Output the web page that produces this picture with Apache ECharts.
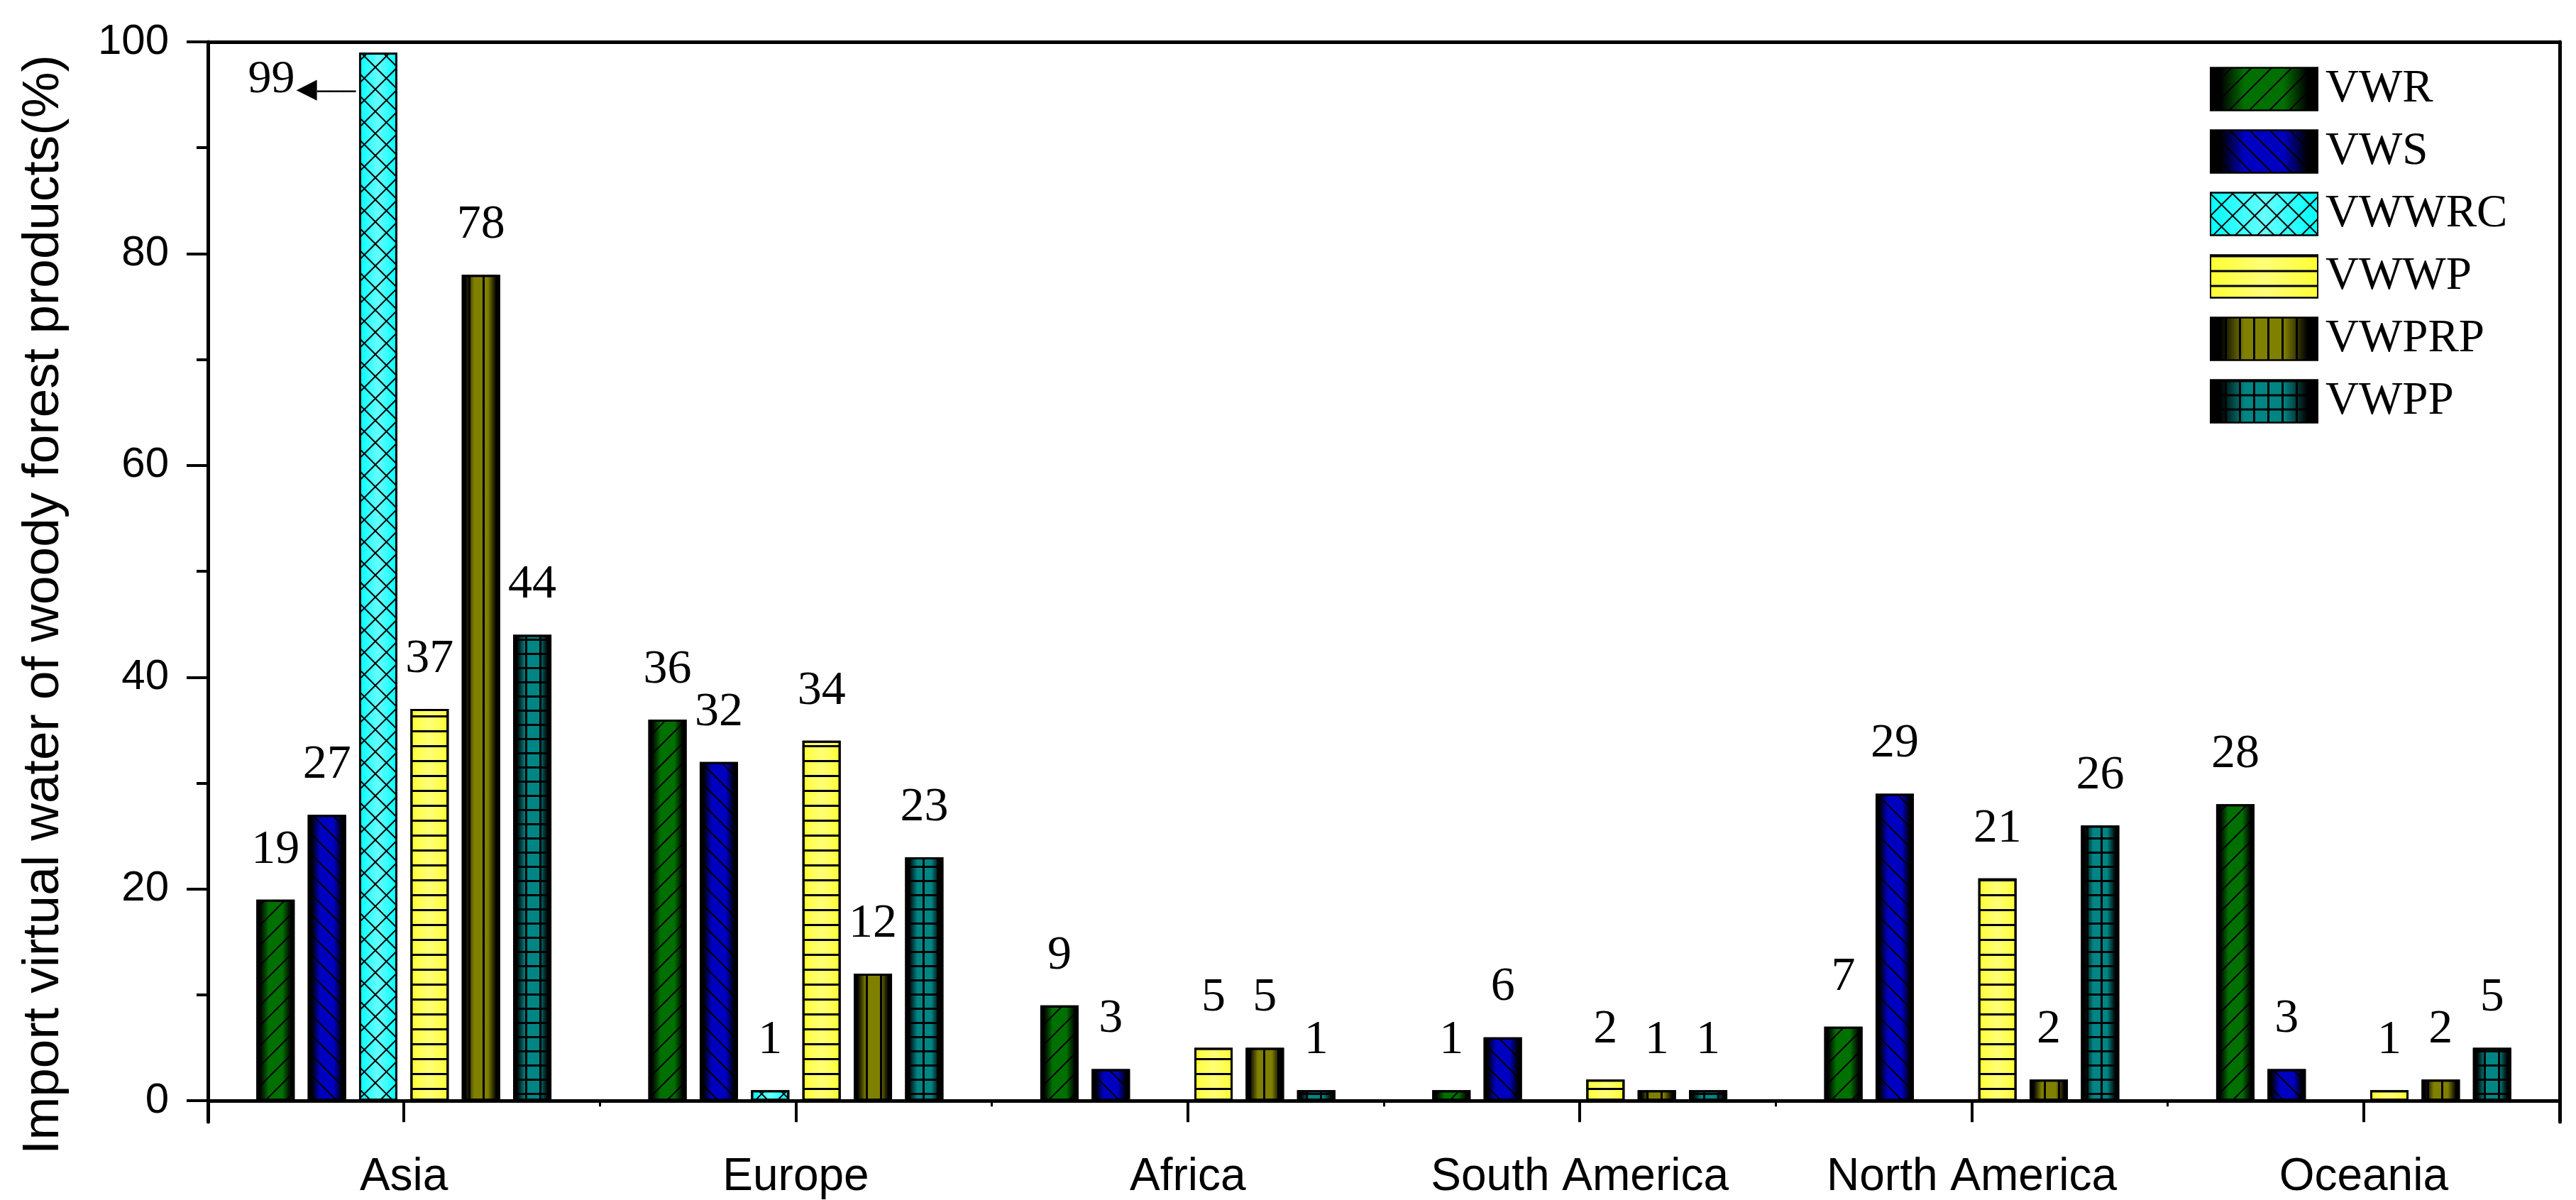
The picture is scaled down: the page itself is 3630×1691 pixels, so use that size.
<!DOCTYPE html>
<html><head><meta charset="utf-8">
<script src="https://cdn.jsdelivr.net/npm/echarts@6/dist/echarts.min.js"></script>
<style>html,body{margin:0;padding:0;background:#fff}#c{width:3630px;height:1691px}</style>
</head><body><div id="c"></div>
<script>
const categories = ['Asia', 'Europe', 'Africa', 'South America', 'North America', 'Oceania'];
const seriesNames = ['VWR', 'VWS', 'VWWRC', 'VWWP', 'VWPRP', 'VWPP'];
const VWR = [19, 36, 9, 1, 7, 28];
const VWS = [27, 32, 3, 6, 29, 3];
const VWWRC = [99, 1, 0, 0, 0, 0];
const VWWP = [37, 34, 5, 2, 21, 1];
const VWPRP = [78, 12, 5, 1, 2, 2];
const VWPP = [44, 23, 1, 1, 26, 5];
const yTicks = [0, 20, 40, 60, 80, 100];
const yMinorTicks = [10, 30, 50, 70, 90];
const yTitle = 'Import virtual water of woody forest products(%)';

const SANS = 'Liberation Sans';
const SERIF = 'Liberation Serif';

function darkFill(c) {
  return { type: 'linear', x: 0, y: 0, x2: 1, y2: 0, colorStops: [
    { offset: 0, color: '#000' }, { offset: 0.1, color: '#000' }, { offset: 0.32, color: c },
    { offset: 0.68, color: c }, { offset: 0.9, color: '#000' }, { offset: 1, color: '#000' }] };
}
function lightFill(edge, mid) {
  return { type: 'linear', x: 0, y: 0, x2: 1, y2: 0, colorStops: [
    { offset: 0, color: edge }, { offset: 0.5, color: mid }, { offset: 1, color: edge }] };
}
function lineDecal(rot, thick, gap) {
  return { symbol: 'rect', symbolSize: 1, symbolKeepAspect: false, color: '#000',
    dashArrayX: [20, 0], dashArrayY: [thick, gap], rotation: rot };
}
function gridDecal(rot, thick, gap) {
  return { symbol: 'rect', symbolSize: 1, symbolKeepAspect: false, color: '#000',
    dashArrayX: [[thick + gap, 0], [thick, gap]], dashArrayY: [thick, 0, gap, 0], rotation: rot };
}

const styles = [
  { color: darkFill('#007000'), decal: lineDecal(-Math.PI / 4, 2, 18), bw: 3 },
  { color: darkFill('#0000c0'), decal: lineDecal(Math.PI / 4, 2, 18), bw: 3 },
  { color: lightFill('#00ffff', '#66ffff'), decal: gridDecal(Math.PI / 4, 2, 20), bw: 3 },
  { color: lightFill('#ffff33', '#ffff77'), decal: lineDecal(0, 3, 18), bw: 3 },
  { color: darkFill('#808000'), decal: { symbol: 'rect', symbolSize: 1, symbolKeepAspect: false, color: '#000', dashArrayX: [3, 17], dashArrayY: [20, 0], rotation: 0 }, bw: 3 },
  { color: darkFill('#008585'), decal: gridDecal(0, 3, 17), bw: 3 }
];
const values = [VWR, VWS, VWWRC, VWWP, VWPRP, VWPP];

const baseLabel = {
  show: true, position: 'top', distance: 36, fontFamily: SERIF, fontSize: 68, color: '#000',
  formatter: p => (p.value > 0 ? String(p.value) : '')
};
const bigLabel = {
  position: [-5, 6], align: 'right', verticalAlign: 'top',
  formatter: '{v|{c}}{g| }{h|◀}{l|───}',
  rich: {
    v: { fontFamily: SERIF, fontSize: 66, lineHeight: 66, color: '#000' },
    g: { fontSize: 8, lineHeight: 34, verticalAlign: 'bottom' },
    h: { fontFamily: 'DejaVu Sans', fontSize: 38, lineHeight: 38, verticalAlign: 'bottom', color: '#000' },
    l: { fontFamily: 'DejaVu Sans', fontSize: 30, lineHeight: 38, verticalAlign: 'bottom', color: '#000' }
  }
};

const series = seriesNames.map((name, i) => ({
  name, type: 'bar', xAxisIndex: 0, yAxisIndex: 0,
  barWidth: 54, barGap: '34%',
  data: values[i].map(v => (v > 90 ? { value: v, label: bigLabel } : v)),
  itemStyle: { color: styles[i].color, decal: styles[i].decal, borderColor: '#000', borderWidth: styles[i].bw },
  label: baseLabel,
  emphasis: { disabled: true }
}));

const chart = echarts.init(document.getElementById('c'), null, { renderer: 'canvas' });
chart.setOption({
  animation: false,
  backgroundColor: '#fff',
  grid: { left: 293, right: 23, top: 59, bottom: 104, containLabel: false },
  legend: {
    orient: 'vertical', left: 3114, top: 93, itemWidth: 151, itemHeight: 60, itemGap: 23,
    padding: 0, selectedMode: false, icon: 'rect', data: seriesNames,
    textStyle: { fontFamily: SERIF, fontSize: 65, color: '#000', padding: [0, 0, 0, 6] }
  },
  xAxis: [
    { type: 'category', data: categories, position: 'bottom',
      axisLine: { show: true, onZero: true, lineStyle: { color: '#000', width: 5 } },
      axisTick: { show: true, alignWithLabel: true, length: 30, lineStyle: { color: '#000', width: 4 } },
      axisLabel: { fontFamily: SANS, fontSize: 64, color: '#000', margin: 46 },
      splitLine: { show: false } },
    { type: 'category', data: categories, position: 'bottom',
      axisLine: { show: false, onZero: true },
      axisTick: { show: true, alignWithLabel: false, length: 8, lineStyle: { color: '#000', width: 3 } },
      axisLabel: { show: false }, splitLine: { show: false } },
    { type: 'category', data: categories, position: 'top',
      axisLine: { show: true, onZero: false, lineStyle: { color: '#000', width: 5 } },
      axisTick: { show: false }, axisLabel: { show: false }, splitLine: { show: false } }
  ],
  yAxis: [
    { type: 'value', position: 'left', min: -2, max: 100,
      name: yTitle, nameLocation: 'middle', nameGap: 195,
      nameTextStyle: { fontFamily: SANS, fontSize: 73, color: '#000', padding: [0, 64, 0, 0] },
      axisLine: { show: true, lineStyle: { color: '#000', width: 5 } },
      axisTick: { show: true, customValues: yTicks, length: 30, lineStyle: { color: '#000', width: 4 } },
      axisLabel: { customValues: yTicks, fontFamily: SANS, fontSize: 60, color: '#000', margin: 55 },
      splitLine: { show: false } },
    { type: 'value', position: 'right', min: -2, max: 100,
      axisLine: { show: true, lineStyle: { color: '#000', width: 5 } },
      axisTick: { show: false }, axisLabel: { show: false }, splitLine: { show: false } },
    { type: 'value', position: 'left', min: -2, max: 100,
      axisLine: { show: false },
      axisTick: { show: true, customValues: yMinorTicks, length: 16, lineStyle: { color: '#000', width: 4 } },
      axisLabel: { show: false }, splitLine: { show: false } }
  ],
  series
});
</script>
</body></html>
